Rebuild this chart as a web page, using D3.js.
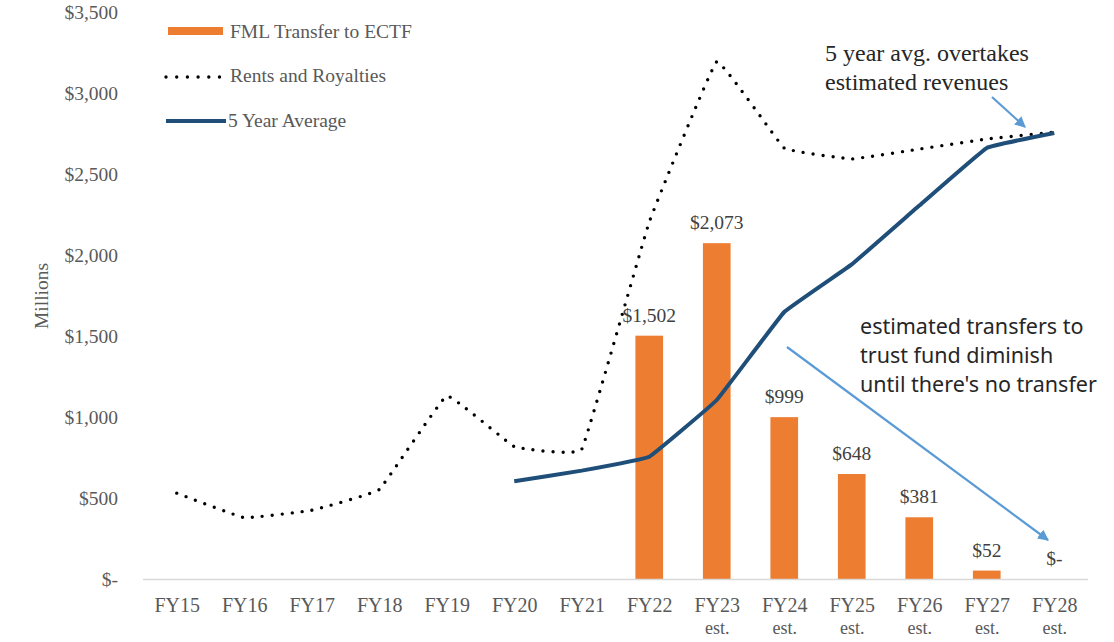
<!DOCTYPE html>
<html>
<head>
<meta charset="utf-8">
<script src="https://cdn.jsdelivr.net/npm/d3@7"></script>
<style>
  body { margin: 0; background: #fff; }
</style>
</head>
<body>
<script>
// Chart data (millions of dollars)
const categories = ["FY15", "FY16", "FY17", "FY18", "FY19", "FY20", "FY21",
                    "FY22", "FY23", "FY24", "FY25", "FY26", "FY27", "FY28"];
const subLabels = ["", "", "", "", "", "", "", "", "est.", "est.", "est.", "est.", "est.", "est."];
const rentsRoyalties = [530, 378, 424, 552, 1131, 817, 801, 2204, 3193, 2660, 2593, 2654, 2716, 2759];
const fiveYearAvg = [null, null, null, null, null, 603, 669, 755, 1105, 1648, 1942, 2305, 2661, 2753];
const transfer = [null, null, null, null, null, null, null, 1502, 2073, 999, 648, 381, 52, 0];
const yTicks = [0, 500, 1000, 1500, 2000, 2500, 3000, 3500];

const W = 1114, H = 642;
const serif = "'Liberation Serif', 'Times New Roman', serif";
const ORANGE = "#ed7d31", NAVY = "#1f4e79", ARROW = "#5b9bd5";

const svg = d3.select("body").append("svg")
    .attr("width", W)
    .attr("height", H)
    .attr("font-family", serif);

const x = d3.scalePoint()
    .domain(categories)
    .range([143, 1088])
    .padding(0.5);
const step = x.step();
const barW = step * 0.41;

const y = d3.scaleLinear()
    .domain([0, 3500])
    .range([579, 12]);

const money = v => v === 0 ? "$-" : "$" + d3.format(",")(v);

// Y axis (labels only)
const yAxis = svg.append("g")
    .attr("transform", "translate(143,0)")
    .call(d3.axisLeft(y).tickValues(yTicks).tickSize(0).tickPadding(25).tickFormat(money));
yAxis.select(".domain").remove();
yAxis.selectAll("text")
    .attr("font-family", serif)
    .attr("font-size", 19.5)
    .attr("fill", "#595959");

svg.append("text")
    .attr("transform", "translate(48,296) rotate(-90)")
    .attr("text-anchor", "middle")
    .attr("font-family", serif)
    .attr("font-size", 19.5)
    .attr("fill", "#595959")
    .text("Millions");

// Bars
const barData = categories.map((c, i) => ({ c, v: transfer[i] })).filter(d => d.v !== null);
svg.append("g").selectAll("rect")
    .data(barData.filter(d => d.v > 0))
    .join("rect")
    .attr("x", d => x(d.c) - barW / 2)
    .attr("y", d => y(d.v))
    .attr("width", barW)
    .attr("height", d => y(0) - y(d.v))
    .attr("fill", ORANGE);

// X axis
const xAxis = svg.append("g")
    .attr("transform", `translate(0,${y(0)})`)
    .call(d3.axisBottom(x).tickSize(0).tickPadding(0).tickFormat(""));
xAxis.select(".domain")
    .attr("d", `M143,0.5H1088`)
    .attr("stroke", "#d9d9d9")
    .attr("stroke-width", 1.5);
xAxis.selectAll(".tick").each(function (c) {
    const t = d3.select(this).select("text")
        .attr("y", 0)
        .attr("dy", null)
        .attr("font-family", serif)
        .attr("font-size", 20)
        .attr("fill", "#595959");
    t.append("tspan").attr("x", 0).attr("y", 33).text(c);
    const sub = subLabels[categories.indexOf(c)];
    if (sub) t.append("tspan").attr("x", 0).attr("y", 55).attr("font-size", 18).text(sub);
});

// Lines
const rentsLine = d3.line()
    .x((d, i) => x(categories[i]))
    .y(d => y(d))
    .curve(d3.curveCardinal.tension(0.8));
svg.append("path")
    .datum(rentsRoyalties)
    .attr("d", rentsLine)
    .attr("fill", "none")
    .attr("stroke", "#000")
    .attr("stroke-width", 3.4)
    .attr("stroke-linecap", "round")
    .attr("stroke-dasharray", "0 10");

const avgLine = d3.line()
    .defined(d => d !== null)
    .x((d, i) => x(categories[i]))
    .y(d => y(d))
    .curve(d3.curveCardinal.tension(0.8));
svg.append("path")
    .datum(fiveYearAvg)
    .attr("d", avgLine)
    .attr("fill", "none")
    .attr("stroke", NAVY)
    .attr("stroke-width", 4);

// Data labels
svg.append("g").selectAll("text")
    .data(barData)
    .join("text")
    .attr("x", d => x(d.c))
    .attr("y", d => y(d.v) - 14)
    .attr("text-anchor", "middle")
    .attr("font-family", serif)
    .attr("font-size", 19.5)
    .attr("fill", "#404040")
    .text(d => money(d.v));

// Legend
const legend = svg.append("g").attr("font-family", serif).attr("font-size", 19.5).attr("fill", "#595959");
legend.append("rect").attr("x", 168).attr("y", 27).attr("width", 55).attr("height", 8).attr("fill", ORANGE);
legend.append("text").attr("x", 230).attr("y", 38).text("FML Transfer to ECTF");
legend.append("line").attr("x1", 166).attr("x2", 220).attr("y1", 77).attr("y2", 77)
    .attr("stroke", "#000").attr("stroke-width", 3.4)
    .attr("stroke-linecap", "round").attr("stroke-dasharray", "0 10.7");
legend.append("text").attr("x", 230).attr("y", 82).text("Rents and Royalties");
legend.append("line").attr("x1", 166).attr("x2", 226).attr("y1", 121).attr("y2", 121)
    .attr("stroke", NAVY).attr("stroke-width", 4);
legend.append("text").attr("x", 228).attr("y", 127).text("5 Year Average");

// Annotations
svg.append("defs").append("marker")
    .attr("id", "head")
    .attr("viewBox", "0 0 10 10")
    .attr("refX", 9).attr("refY", 5)
    .attr("markerWidth", 5).attr("markerHeight", 5)
    .attr("markerUnits", "strokeWidth")
    .attr("orient", "auto")
    .append("path").attr("d", "M0,0L10,5L0,10z").attr("fill", ARROW);

svg.append("line")
    .attr("x1", 992).attr("y1", 97).attr("x2", 1025).attr("y2", 127)
    .attr("stroke", ARROW).attr("stroke-width", 2.2).attr("marker-end", "url(#head)");
svg.append("line")
    .attr("x1", 787).attr("y1", 347).attr("x2", 1048).attr("y2", 540)
    .attr("stroke", ARROW).attr("stroke-width", 2.2).attr("marker-end", "url(#head)");

const note1 = svg.append("text")
    .attr("font-family", serif)
    .attr("font-size", 24)
    .attr("fill", "#262626");
note1.append("tspan").attr("x", 825).attr("y", 61).text("5 year avg. overtakes");
note1.append("tspan").attr("x", 825).attr("y", 90).text("estimated revenues");

const note2 = svg.append("text")
    .attr("font-family", "'Noto Sans', 'Open Sans', sans-serif")
    .attr("font-size", 21.5)
    .attr("fill", "#262626");
["estimated transfers to", "trust fund diminish", "until there's no transfer"].forEach((s, i) => {
    note2.append("tspan").attr("x", 860).attr("y", 334 + i * 29).text(s);
});
</script>
</body>
</html>
